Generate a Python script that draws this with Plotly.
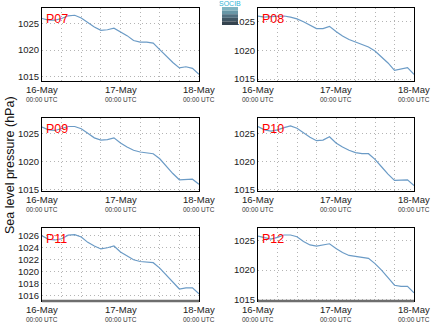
import plotly.graph_objects as go

hours = list(range(0, 49, 2))
times = [f"2013-05-{16 + h // 24:02d} {h % 24:02d}:00" for h in hours]

stations = ["P07", "P08", "P09", "P10", "P11", "P12"]

p07 = [1025.9, 1025.6, 1025.6, 1025.9, 1026.4, 1026.5, 1026.0, 1025.2, 1024.3, 1023.7,
       1023.8, 1024.1, 1023.4, 1022.7, 1021.8, 1021.5, 1021.5, 1021.3, 1020.1, 1018.9,
       1017.7, 1016.7, 1016.9, 1016.6, 1015.5]
p08 = [1026.0, 1025.8, 1025.9, 1026.0, 1026.0, 1025.8, 1025.5, 1025.0, 1024.4, 1023.8,
       1023.8, 1024.2, 1023.3, 1022.5, 1021.9, 1021.5, 1021.1, 1020.6, 1019.9, 1018.9,
       1017.8, 1016.5, 1016.8, 1017.0, 1015.8]
p09 = [1026.1, 1025.6, 1025.5, 1025.8, 1026.2, 1026.2, 1025.8, 1025.0, 1024.2, 1023.8,
       1023.9, 1024.2, 1023.3, 1022.6, 1022.0, 1021.7, 1021.6, 1021.4, 1020.5, 1019.2,
       1017.9, 1016.8, 1016.9, 1016.9, 1016.0]
p10 = [1026.2, 1025.6, 1025.4, 1025.6, 1026.0, 1026.3, 1025.9, 1025.1, 1024.3, 1023.7,
       1023.8, 1024.4, 1023.3, 1022.6, 1022.0, 1021.6, 1021.4, 1021.4, 1020.4, 1019.1,
       1017.8, 1016.7, 1016.8, 1016.8, 1015.8]
p11 = [1026.0, 1025.4, 1025.3, 1025.5, 1026.1, 1026.2, 1025.8, 1024.9, 1024.3, 1023.8,
       1024.0, 1024.3, 1023.3, 1022.6, 1022.0, 1021.7, 1021.6, 1021.5, 1020.6, 1019.4,
       1018.2, 1017.1, 1017.3, 1017.3, 1016.3]
p12 = [1025.8, 1025.5, 1025.3, 1025.6, 1026.0, 1026.0, 1025.7, 1024.9, 1024.3, 1024.1,
       1024.3, 1024.5, 1023.7, 1023.0, 1022.5, 1022.3, 1022.2, 1022.0, 1021.1, 1020.0,
       1018.7, 1017.4, 1017.2, 1017.2, 1016.1]
series = [p07, p08, p09, p10, p11, p12]

y_ranges = [[1014.25, 1027.85], [1014.65, 1027.4], [1014.82, 1027.7],
            [1014.82, 1027.7], [1015.1, 1027.3], [1014.7, 1027.2]]
y_dticks = [5, 5, 5, 5, 2, 5]

x_tickvals = ["2013-05-16 00:00", "2013-05-17 00:00", "2013-05-18 00:00"]
x_ticktext = ["16-May", "17-May", "18-May"]
x_subtext = "00:00 UTC"

W, H = 434, 327
col_px = [(42, 199), (258, 414)]
row_px = [(8, 81), (118, 191), (228, 301)]

fig = go.Figure()
font_fam = "Liberation Sans, Arial, sans-serif"
grid = dict(gridcolor="#b4b4b4", griddash="1px,3px", gridwidth=1)

for i, (name, vals) in enumerate(zip(stations, series)):
    r, c = divmod(i, 2)
    n = i + 1
    xa = "x" if n == 1 else f"x{n}"
    ya = "y" if n == 1 else f"y{n}"
    fig.add_trace(go.Scatter(x=times, y=vals, mode="lines", xaxis=xa, yaxis=ya,
                             line=dict(color="#6b9bc6", width=1.2), showlegend=False,
                             hoverinfo="skip"))
    xd = [col_px[c][0] / W, col_px[c][1] / W]
    yd = [1 - row_px[r][1] / H, 1 - row_px[r][0] / H]
    key = "" if n == 1 else str(n)
    fig.layout["xaxis" + key] = dict(
        domain=xd, anchor=ya, type="date", automargin=False,
        range=["2013-05-16 00:00", "2013-05-18 00:00"],
        tickvals=x_tickvals, showticklabels=False, ticks="",
        showline=True, linecolor="black", linewidth=1, mirror=True,
        showgrid=True, **grid,
        minor=dict(dtick=6 * 3600 * 1000, showgrid=True, ticks="", **grid),
        zeroline=False, fixedrange=True,
    )
    fig.layout["yaxis" + key] = dict(
        domain=yd, anchor=xa, range=y_ranges[i], dtick=y_dticks[i], tick0=1000,
        automargin=False,
        tickfont=dict(size=9.5, color="#222", family=font_fam),
        showline=True, linecolor="black", linewidth=1, mirror=True,
        showgrid=True, **grid,
        ticks="", zeroline=False, fixedrange=True,
    )
    for tv, tt in zip(x_tickvals, x_ticktext):
        fig.add_annotation(text=tt, x=tv, xref=xa, y=1 - (row_px[r][1] + 8.5) / H,
                           yref="paper", showarrow=False, xanchor="center", yanchor="middle",
                           font=dict(size=9.5, color="#222", family=font_fam))
        fig.add_annotation(text=x_subtext, x=tv, xref=xa, y=1 - (row_px[r][1] + 18.5) / H,
                           yref="paper", showarrow=False, xanchor="center", yanchor="middle",
                           font=dict(size=6.5, color="#333", family=font_fam))
    fig.add_annotation(text=name, x=xd[0] + 1.5 / W, y=yd[1] - 2 / H, xref="paper", yref="paper",
                       xanchor="left", yanchor="top", showarrow=False,
                       font=dict(size=12.5, color="red", family=font_fam))
    if r == 2:
        fig.add_shape(type="line", xref=f"{xa} domain", yref=f"{ya} domain",
                      x0=0, x1=1, y0=0, y1=0, line=dict(color="#6e6e6e", width=2.5))

fig.add_annotation(text="Sea level pressure (hPa)", x=10 / W, y=1 - 165 / H,
                   xref="paper", yref="paper", textangle=-90, showarrow=False,
                   xanchor="center", yanchor="middle",
                   font=dict(size=12.5, color="#111", family=font_fam))

# SOCIB logo approximation
logo_cols = ["#7fb4c2", "#6796a6", "#506f80", "#3f5563", "#34434e"]
x0, x1 = 222 / W, 238 / W
ytop, ybot = 1 - 7 / H, 1 - 25 / H
step = (ytop - ybot) / len(logo_cols)
for k, col in enumerate(logo_cols):
    fig.add_shape(type="rect", xref="paper", yref="paper", x0=x0, x1=x1,
                  y0=ytop - (k + 1) * step, y1=ytop - k * step,
                  line=dict(width=0), fillcolor=col)
fig.add_annotation(text="SOCIB", x=230 / W, y=1 - 4 / H, xref="paper", yref="paper",
                   showarrow=False, xanchor="center", yanchor="middle",
                   font=dict(size=7, color="#2fb4d6", family=font_fam))

fig.update_layout(width=W, height=H, margin=dict(l=0, r=0, t=0, b=0, autoexpand=False),
                  paper_bgcolor="white", plot_bgcolor="white",
                  font=dict(family=font_fam))

fig.write_html("out.html")
